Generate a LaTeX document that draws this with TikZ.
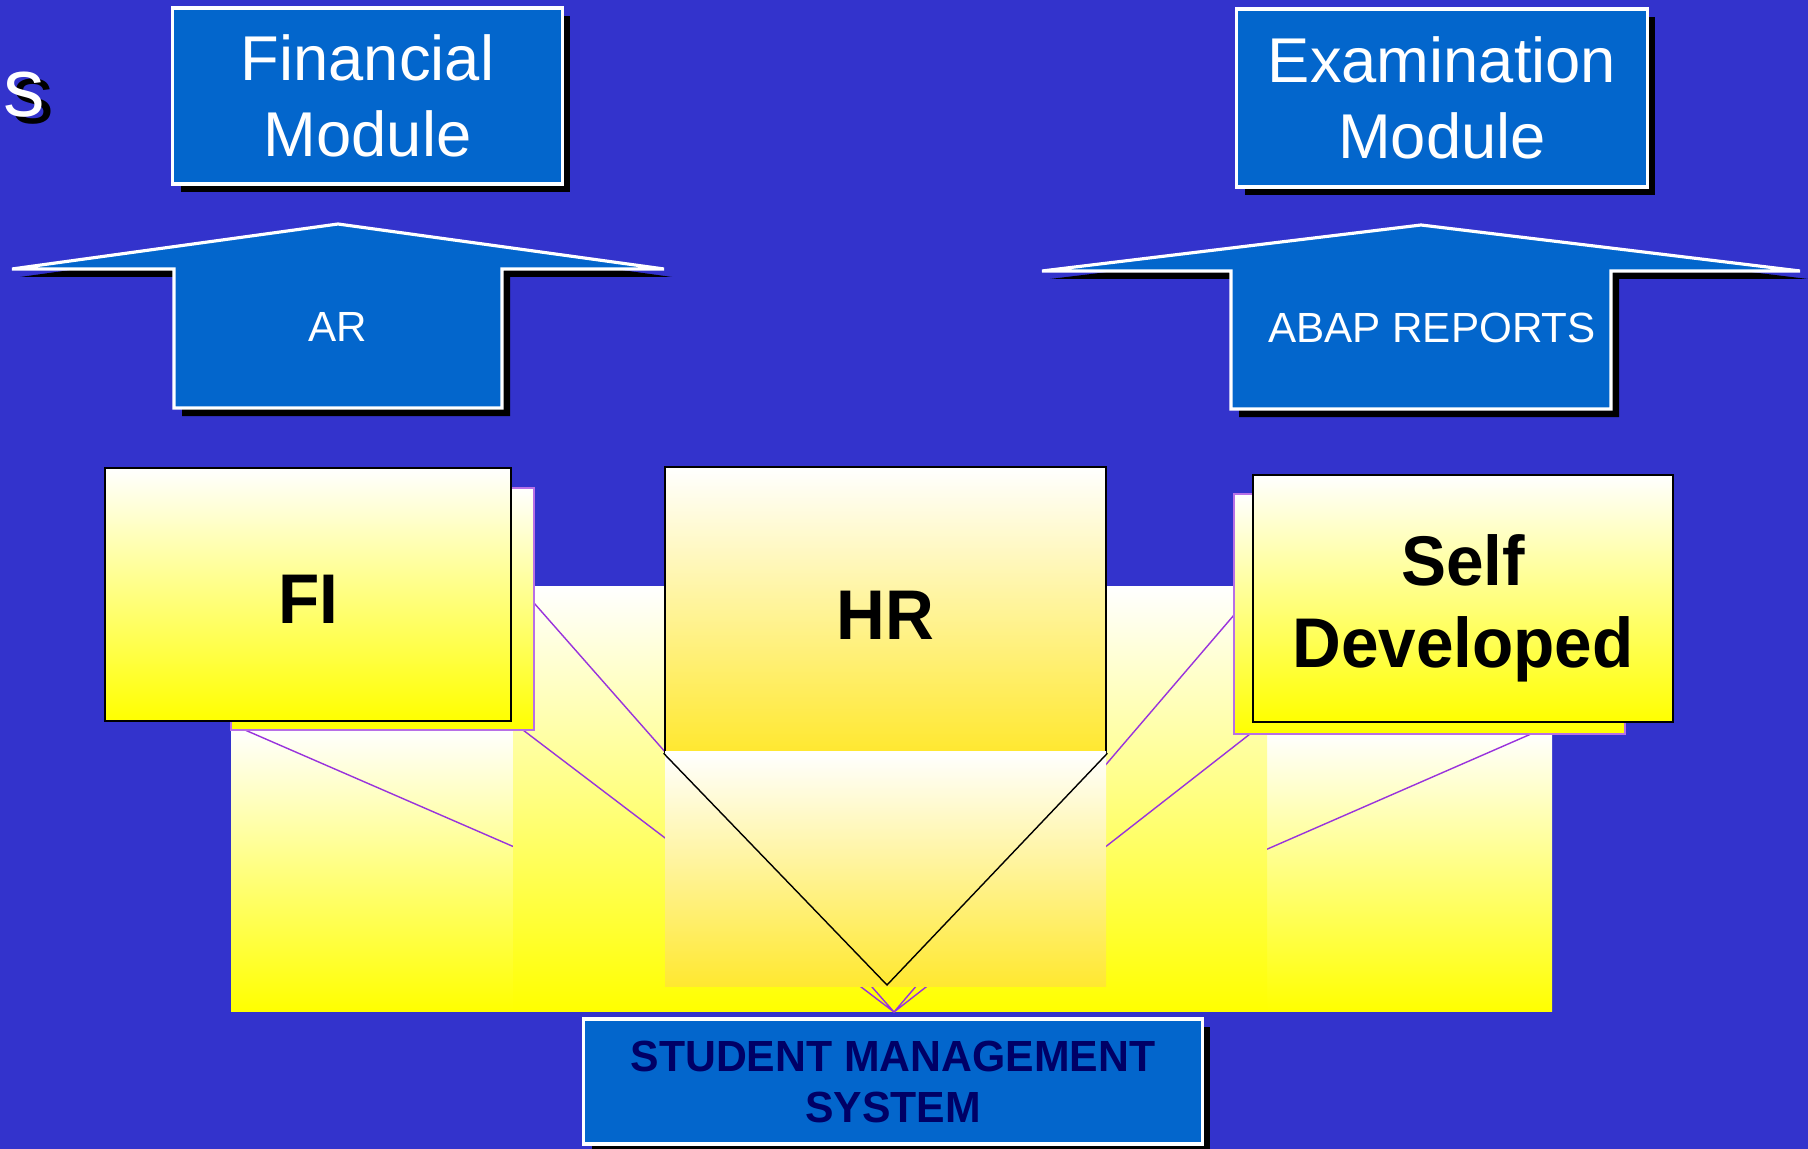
\documentclass[tikz,border=0pt]{standalone}
\usepackage{fontspec}
\setmainfont{Liberation Sans}
\newfontfamily\cnd[FakeStretch=0.96]{Liberation Sans}
\newfontfamily\cnb[FakeStretch=0.98]{Liberation Sans}
\usetikzlibrary{shadows}
\definecolor{bg}{RGB}{51,51,204}
\definecolor{bx}{RGB}{3,102,204}
\definecolor{navy}{RGB}{0,0,102}
\definecolor{lilac}{RGB}{153,51,220}
\definecolor{gold}{RGB}{255,232,48}
\tikzset{
    SH/.style ={drop shadow={opacity=1,fill=black,shadow xshift=0.08cm,shadow yshift=-0.08cm}},
    MB/.style ={rectangle,draw=white,line width=0.9pt,fill=bx,text=white,align=center,inner sep=0pt,SH},
    AW/.style ={draw=white,line width=0.9pt,fill=bx,SH},
    YP/.style ={top color=white,bottom color=yellow},
    YB/.style ={rectangle,draw=black,line width=0.7pt,top color=white,bottom color=yellow,align=center,inner sep=0pt,font=\cnd\bfseries\fontsize{20}{23.3}\selectfont},
    BB/.style ={rectangle,draw=lilac!70,line width=0.5pt,top color=white,bottom color=yellow,inner sep=0pt},
    PL/.style ={draw=lilac,line width=0.4pt},
    TT/.style ={inner sep=0pt,anchor=base west,font=\fontsize{23.6}{28}\selectfont}}

\begin{document}
\begin{tikzpicture}[x=0.01cm,y=-0.01cm]
    \fill[bg] (0,0) rectangle (1808,1149);
    \useasboundingbox (0,0) rectangle (1808,1149);
    \node[TT,text=black](1) at (12,124){s};
    \node[TT,text=white](2) at (3,117){s};
    % modules on top
    \node[MB,minimum width=3.89cm,minimum height=1.76cm,font=\fontsize{18}{21.6}\selectfont](3) at (367.5,96){Financial\\Module};
    \node[MB,minimum width=4.10cm,minimum height=1.78cm,font=\fontsize{18}{21.6}\selectfont](4) at (1442,98){Examination\\Module};
    \filldraw[AW] (12,269) -- (338,224) -- (664,269) -- (502,269) -- (502,408) -- (174,408) -- (174,269) -- cycle;
    \node[text=white,anchor=base,font=\fontsize{12}{14}\selectfont](5) at (338,342){AR};
    \filldraw[AW] (1042,271) -- (1421,225) -- (1800,271) -- (1611,271) -- (1611,409) -- (1231,409) -- (1231,271) -- cycle;
    \node[text=white,anchor=base,font=\fontsize{12}{14}\selectfont](6) at (1432,343){ABAP REPORTS};
    % beam
    \coordinate(P) at (894,1012);
    \coordinate(V) at (887,985);
    \coordinate(a1) at (245,730);
    \coordinate(a2) at (534,603);
    \coordinate(a3) at (523,730);
    \coordinate(b1) at (1531,734);
    \coordinate(b2) at (1234,615);
    \coordinate(b3) at (1250,734);
    \fill[YP] (231,729) rectangle (513,1011);
    \draw[PL] (a1) -- (P);
    \fill[YP] (1267,733) rectangle (1552,1011);
    \draw[PL] (b1) -- (P);
    \fill[YP] (513,587) rectangle (1267,1011);
    \draw[PL] (a2) -- (P) (a3) -- (P) (b2) -- (P) (b3) -- (P);
    \node[BB,minimum width=3.03cm,minimum height=2.42cm](7) at (382.5,609){};
    \node[BB,minimum width=3.91cm,minimum height=2.40cm](8) at (1429.5,614){};
    \node[YB,minimum width=4.06cm,minimum height=2.53cm,text height=16.4pt,text depth=0pt](9) at (308,594.5){FI};
    \node[YB,minimum width=4.41cm,minimum height=2.85cm,text height=17pt,text depth=0pt,bottom color=gold](10) at (885.5,609.5){HR};
    \node[YB,minimum width=4.20cm,minimum height=2.47cm,text height=39pt,text depth=0pt](11) at (1463,598.5){Self\\Developed};
    \fill[top color=white,bottom color=gold] (665,752) rectangle (1106,986);
    \draw[line width=0.4pt] (10.south west) -- (V) -- (10.south east);
    \node[MB,minimum width=6.18cm,minimum height=1.25cm,text=navy,font=\cnb\bfseries\fontsize{12.4}{14.5}\selectfont](12) at (893,1081.5){STUDENT MANAGEMENT\\SYSTEM};
\end{tikzpicture}
\end{document}
